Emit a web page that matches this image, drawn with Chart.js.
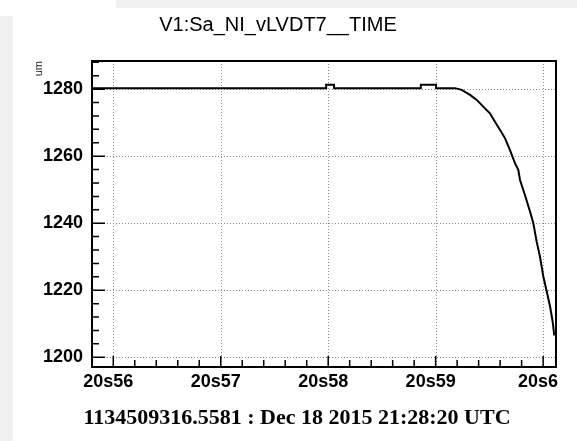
<!DOCTYPE html>
<html>
<head>
<meta charset="utf-8">
<script src="https://cdn.jsdelivr.net/npm/chart.js@4"></script>
<style>
  html, body { margin: 0; padding: 0; background: #fff; }
  canvas { display: block; }
</style>
</head>
<body>
<canvas id="chart" width="577" height="441"></canvas>
<script>
// Data: seconds within the minute (20s56 ... 20s6) and position in um
const timeSec = [55.802, 57.98, 57.981, 58.054, 58.055, 58.861, 58.862, 59.003, 59.004,
  59.18, 59.242, 59.32, 59.382, 59.443, 59.505, 59.552, 59.598, 59.645, 59.691, 59.738,
  59.769, 59.785, 59.831, 59.878, 59.909, 59.94, 59.971, 60.002, 60.034, 60.065, 60.089, 60.104];
const lvdtUm = [1280.3, 1280.3, 1281.3, 1281.3, 1280.3, 1280.3, 1281.3, 1281.3, 1280.3,
  1280.3, 1279.8, 1278.3, 1276.8, 1274.8, 1272.8, 1270.3, 1267.9, 1265.4, 1261.9, 1257.9,
  1255.9, 1252.9, 1248.4, 1243.5, 1240.0, 1234.5, 1230.0, 1224.1, 1219.6, 1215.1, 1210.6, 1206.5];

const xTickValues = [56, 57, 58, 59, 60];
const xTickLabels = ['20s56', '20s57', '20s58', '20s59', '20s6'];
const yTickValues = [1200, 1220, 1240, 1260, 1280];

const chartTitle = 'V1:Sa_NI_vLVDT7__TIME';
const footerText = '1134509316.5581 : Dec 18 2015 21:28:20 UTC';

const points = timeSec.map((t, i) => ({ x: t, y: lvdtUm[i] }));

// grey canvas edges seen in the screenshot
const backdrop = {
  id: 'backdrop',
  beforeDraw(chart) {
    const ctx = chart.ctx;
    ctx.save();
    ctx.fillStyle = '#f0f0f0';
    ctx.fillRect(0, 16, 13, chart.height - 16);
    ctx.fillRect(116, 0, chart.width - 116, 8);
    ctx.restore();
  }
};

// dotted grid at the major ticks
const dottedGrid = {
  id: 'dottedGrid',
  beforeDatasetsDraw(chart) {
    const { ctx, chartArea: a, scales: { x, y } } = chart;
    ctx.save();
    ctx.strokeStyle = '#8a8a8a';
    ctx.lineWidth = 1;
    ctx.setLineDash([1, 2]);
    ctx.beginPath();
    xTickValues.forEach(v => {
      const px = Math.round(x.getPixelForValue(v)) + 0.5;
      ctx.moveTo(px, a.top);
      ctx.lineTo(px, a.bottom);
    });
    yTickValues.forEach(v => {
      const py = Math.round(y.getPixelForValue(v)) + 0.5;
      ctx.moveTo(a.left, py);
      ctx.lineTo(a.right, py);
    });
    ctx.stroke();
    ctx.restore();
  }
};

// ROOT style frame with inward tick marks
const frameTicks = {
  id: 'frameTicks',
  afterDatasetsDraw(chart) {
    const { ctx, chartArea: a, scales: { x, y } } = chart;
    ctx.save();
    ctx.strokeStyle = '#000';
    ctx.lineWidth = 1.5;
    ctx.beginPath();
    for (let v = 1200; v <= y.max; v += 4) {
      const py = y.getPixelForValue(v);
      ctx.moveTo(a.left, py);
      ctx.lineTo(a.left + (v % 20 === 0 ? 13 : 7), py);
    }
    for (let k = 0; k <= 20; k++) {
      const px = x.getPixelForValue(56 + k * 0.2);
      ctx.moveTo(px, a.bottom);
      ctx.lineTo(px, a.bottom - (k % 5 === 0 ? 11 : 7));
    }
    ctx.stroke();
    ctx.lineWidth = 2;
    ctx.strokeRect(a.left, a.top, a.right - a.left, a.bottom - a.top);
    ctx.restore();
  },
  afterDraw(chart) {
    const ctx = chart.ctx;
    ctx.save();
    ctx.fillStyle = '#000';
    ctx.font = 'bold 22px "Liberation Serif"';
    ctx.textAlign = 'center';
    ctx.textBaseline = 'middle';
    ctx.fillText(footerText, 297, 418);
    ctx.restore();
  }
};

new Chart(document.getElementById('chart'), {
  type: 'line',
  data: {
    datasets: [{
      data: points,
      borderColor: '#000',
      borderWidth: 2,
      pointRadius: 0,
      tension: 0,
      fill: false
    }]
  },
  options: {
    responsive: false,
    animation: false,
    layout: { padding: { left: 0, right: 21, top: 0, bottom: 0 } },
    plugins: {
      legend: { display: false },
      tooltip: { enabled: false },
      title: {
        display: true,
        text: chartTitle,
        color: '#000',
        font: { family: '"Liberation Sans", Arial, sans-serif', size: 20, weight: 'normal' },
        padding: { top: 13, bottom: 24 }
      }
    },
    scales: {
      x: {
        type: 'linear',
        min: 55.802,
        max: 60.12,
        afterBuildTicks: s => { s.ticks = xTickValues.map(v => ({ value: v })); },
        afterFit: s => { s.height = 74; },
        border: { display: false },
        grid: { display: false, drawTicks: false },
        ticks: {
          color: '#000',
          padding: 4,
          labelOffset: -5,
          maxRotation: 0,
          autoSkip: false,
          font: { family: '"Liberation Sans", Arial, sans-serif', size: 18, weight: 'bold' },
          callback: (v, i) => xTickLabels[i]
        }
      },
      y: {
        min: 1197.1,
        max: 1288.4,
        afterBuildTicks: s => { s.ticks = yTickValues.map(v => ({ value: v })); },
        afterFit: s => { s.width = 92; },
        border: { display: false },
        grid: { display: false, drawTicks: false },
        title: {
          display: true,
          text: 'um',
          align: 'end',
          color: '#222',
          font: { family: '"Liberation Sans", Arial, sans-serif', size: 11 },
          padding: { top: 32, bottom: 0 }
        },
        ticks: {
          color: '#000',
          padding: 9,
          autoSkip: false,
          font: { family: '"Liberation Sans", Arial, sans-serif', size: 18, weight: 'bold' },
          callback: v => String(v)
        }
      }
    }
  },
  plugins: [backdrop, dottedGrid, frameTicks]
});
</script>
</body>
</html>
